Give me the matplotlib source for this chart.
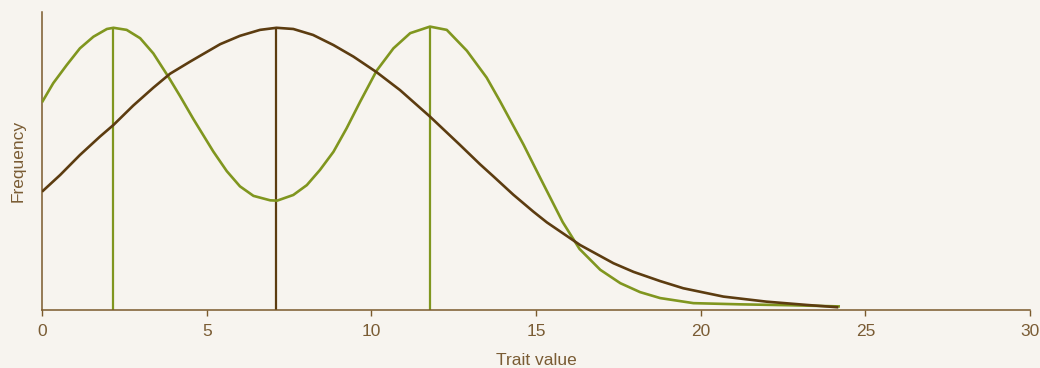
import numpy as np
import matplotlib.pyplot as plt

# (trait value, frequency 0-100)
green_x = [0, 0.34, 0.75, 1.15, 1.56, 1.97, 2.17, 2.57, 2.98, 3.38, 3.84, 4.19, 4.60,
           5.00, 5.20, 5.61, 6.01, 6.42, 6.93, 7.14, 7.63, 8.04, 8.44, 8.85, 9.25,
           9.66, 10.16, 10.67, 11.18, 11.78, 12.29, 12.90, 13.50, 13.91, 14.62,
           15.12, 15.81, 16.32, 16.95, 17.56, 18.16, 18.77, 19.78, 21.20, 22.71, 24.23]
green_y = [69.7, 76.1, 82.2, 87.8, 91.7, 94.3, 94.7, 94.0, 91.2, 86.1, 78.2, 71.8, 64.0,
           56.8, 53.2, 46.6, 41.5, 38.3, 36.8, 36.7, 38.6, 41.9, 47.0, 53.1, 61.0,
           69.9, 80.3, 87.8, 92.9, 95.1, 94.0, 87.0, 78.0, 70.0, 55.5,
           44.5, 29.5, 20.5, 13.5, 9.0, 6.0, 4.0, 2.3, 1.9, 1.6, 1.2]
brown_x = [0, 0.55, 1.15, 1.76, 2.17, 2.77, 3.38, 3.89, 4.49, 4.80, 5.41, 6.01, 6.62,
           7.12, 7.63, 8.23, 8.85, 9.46, 10.16, 10.87, 11.78, 12.69, 13.30, 13.71,
           14.31, 14.92, 15.33, 16.34, 17.35, 17.96, 18.77, 19.47, 20.69, 22.0,
           23.22, 24.18]
brown_y = [39.7, 45.3, 52.0, 58.2, 62.1, 68.6, 74.6, 79.3, 83.3, 85.3, 89.2, 92.0, 94.0,
           94.7, 94.3, 92.3, 88.9, 85.0, 79.8, 73.8, 64.9, 55.4, 48.9, 44.8,
           38.7, 33.0, 29.4, 21.8, 15.7, 12.8, 9.7, 7.3, 4.5, 2.8,
           1.7, 0.9]
green_peaks = [2.16, 11.78]
green_peak_h = [94.8, 95.1]
brown_peak = 7.11
brown_peak_h = 94.8
xticks = [0, 5, 10, 15, 20, 25, 30]

bg = '#f7f4ef'
brown = '#5c3c10'
green = '#80961f'
axcol = '#7a5a2c'
txtcol = '#7a5c34'

plt.rcParams['font.family'] = ['Liberation Sans Narrow', 'Liberation Sans', 'DejaVu Sans']

fig = plt.figure(figsize=(10.4, 3.68), dpi=100, facecolor=bg)
ax = fig.add_axes([0.0404, 0.1576, 0.95, 0.8098])
ax.set_facecolor(bg)

ax.plot(green_x, green_y, color=green, lw=1.9, solid_capstyle='butt',
        solid_joinstyle='round', zorder=3)
ax.plot(brown_x, brown_y, color=brown, lw=1.9, solid_capstyle='butt',
        solid_joinstyle='round', zorder=3)
ax.vlines(green_peaks, 0, green_peak_h, color=green, lw=1.6, zorder=2)
ax.vlines([brown_peak], 0, [brown_peak_h], color=brown, lw=1.6, zorder=2)

ax.set_xlim(0, 30)
ax.set_ylim(0, 100)
ax.set_xticks(xticks)
ax.set_yticks([])
ax.tick_params(axis='x', length=4, width=1, color=axcol, labelcolor=txtcol,
               labelsize=12.5, pad=6)
for s in ['top', 'right']:
    ax.spines[s].set_visible(False)
for s in ['left', 'bottom']:
    ax.spines[s].set_color(axcol)
    ax.spines[s].set_linewidth(1.1)

ax.set_xlabel('Trait value', color=txtcol, fontsize=12.5, labelpad=10)
ax.set_ylabel('Frequency', color=txtcol, fontsize=12.5, labelpad=12)

fig.savefig('out.png', dpi=100, facecolor=bg)
